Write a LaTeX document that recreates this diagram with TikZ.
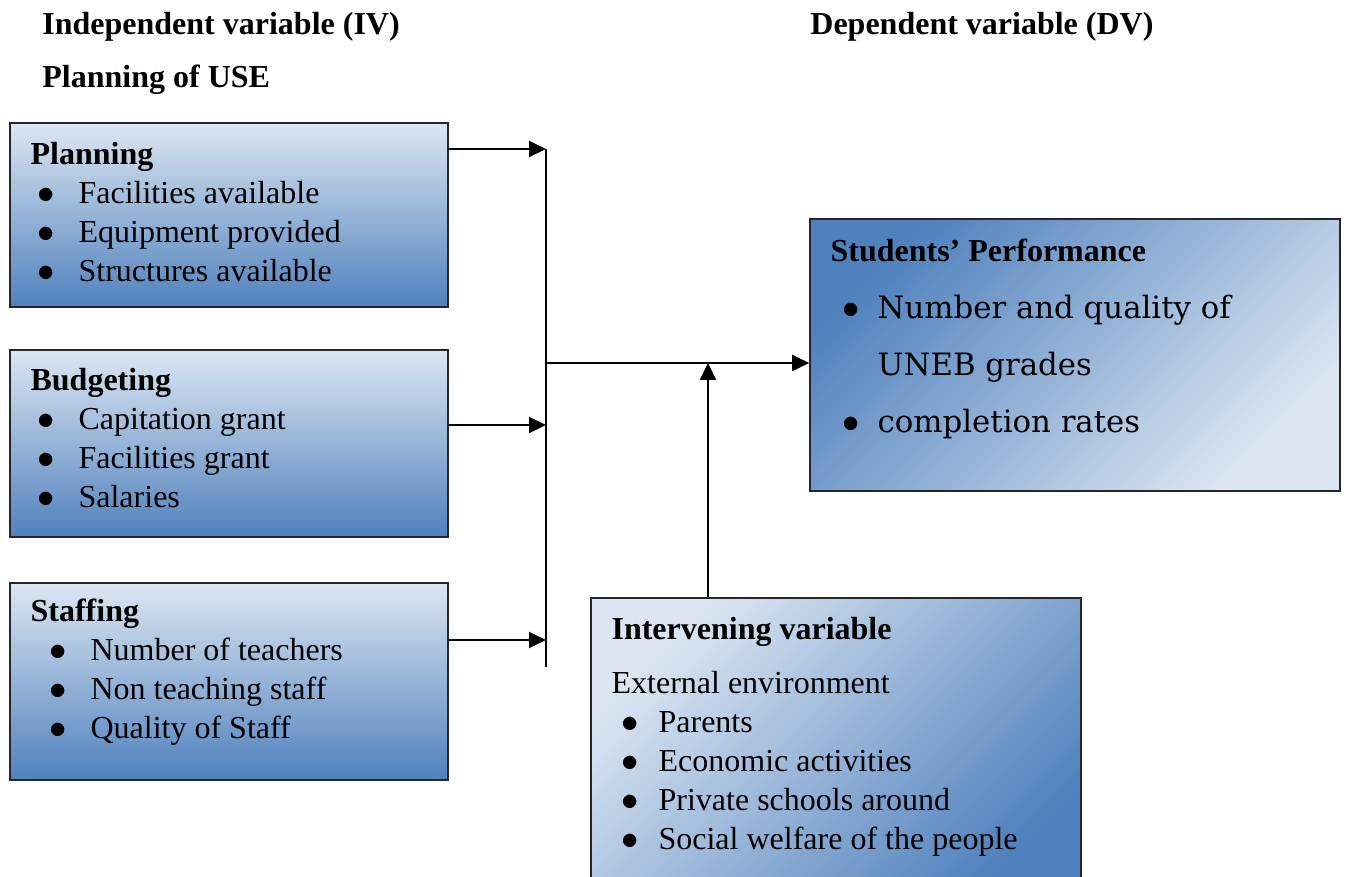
\documentclass[tikz,border=0pt]{standalone}
\usepackage{fontspec}
\setmainfont{Liberation Serif}
\newfontfamily\bookfont{DejaVu Serif}
\usetikzlibrary{arrows.meta}
\definecolor{paleblue}{HTML}{DCE6F2}
\definecolor{deepblue}{HTML}{4F81BD}
% bullet line: indent, gap, text
\newcommand{\bul}[3]{\hspace*{#1}\makebox[#2][l]{$\bullet$}#3}
\newcommand{\bk}{\bookfont\fontsize{15.4}{28.5}\selectfont}

\begin{document}
\begin{tikzpicture}[x=0.5pt,y=-0.5pt,
  every node/.style={font=\fontsize{16}{19.5}\selectfont},
  ivbox/.style={draw=black!85,line width=0.8pt,top color=paleblue,bottom color=deepblue,minimum width=219pt,inner sep=0pt},
  txt/.style={anchor=north west,align=left,inner sep=0pt},
  head/.style={anchor=base west,inner sep=0pt,font=\fontsize{16}{19.5}\selectfont\bfseries},
  link/.style={line width=1pt,-{Triangle[length=8.5pt,width=8pt]}}]
  \useasboundingbox (0,0) rectangle (1346,877);
  % headings
  \node[head] (ivhead) at (42,35) {Independent variable (IV)};
  \node[head] (usehead) at (42,88) {Planning of USE};
  \node[head] (dvhead) at (810,35) {Dependent variable (DV)};
  % independent variables
  \node[ivbox,minimum height=92pt] (plan) at (229,215) {};
  \node[txt] (plantxt) at ([shift={(21,20)}]plan.north west) {\textbf{Planning}\\
    \bul{3.5pt}{20.5pt}{Facilities available}\\
    \bul{3.5pt}{20.5pt}{Equipment provided}\\
    \bul{3.5pt}{20.5pt}{Structures available}};
  \node[ivbox,minimum height=93.5pt] (budget) at (229,443.5) {};
  \node[txt] (budgettxt) at ([shift={(21,19)}]budget.north west) {\textbf{Budgeting}\\
    \bul{3.5pt}{20.5pt}{Capitation grant}\\
    \bul{3.5pt}{20.5pt}{Facilities grant}\\
    \bul{3.5pt}{20.5pt}{Salaries}};
  \node[ivbox,minimum height=98.5pt] (staff) at (229,681.5) {};
  \node[txt] (stafftxt) at ([shift={(21,16)}]staff.north west) {\textbf{Staffing}\\
    \bul{9.5pt}{20.5pt}{Number of teachers}\\
    \bul{9.5pt}{20.5pt}{Non teaching staff}\\
    \bul{9.5pt}{20.5pt}{Quality of Staff}};
  % dependent variable
  \node[draw=black!85,line width=0.8pt,top color=deepblue,bottom color=paleblue,shading angle=45,
    minimum width=265pt,minimum height=136pt,inner sep=0pt] (perf) at (1075,355) {};
  \node[txt,font=\fontsize{16}{28.5}\selectfont] (perftxt) at ([shift={(21,20)}]perf.north west) {\textbf{Students’ Performance}\\
    \bul{6pt}{17.5pt}{\bk Number and quality of}\\
    \hspace*{23.5pt}{\bk UNEB grades}\\
    \bul{6pt}{17.5pt}{\bk completion rates}};
  % intervening variable
  \node[draw=black!85,line width=0.8pt,top color=paleblue,bottom color=deepblue,shading angle=45,
    minimum width=245pt,minimum height=151pt,inner sep=0pt] (interv) at (836,749) {};
  \node[txt] (intervtxt) at ([shift={(21,20)}]interv.north west) {\textbf{Intervening variable}\\[7.5pt]
    External environment\\
    \bul{5pt}{18.5pt}{Parents}\\
    \bul{5pt}{18.5pt}{Economic activities}\\
    \bul{5pt}{18.5pt}{Private schools around}\\
    \bul{5pt}{18.5pt}{Social welfare of the people}};
  % connectors
  \coordinate (j1) at (546,149);
  \coordinate (j2) at (546,425);
  \coordinate (j3) at (546,640);
  \coordinate (busend) at (546,667);
  \coordinate (busjoin) at (546,363);
  \coordinate (meet) at (708,363);
  \draw[link] (j1 -| plan.east) -- (j1);
  \draw[link] (j2 -| budget.east) -- (j2);
  \draw[link] (j3 -| staff.east) -- (j3);
  \draw[line width=1pt] (j1) -- (busend);
  \draw[link] (busjoin) -- (busjoin -| perf.west);
  \draw[link] (meet |- interv.north) -- (meet);
\end{tikzpicture}
\end{document}
